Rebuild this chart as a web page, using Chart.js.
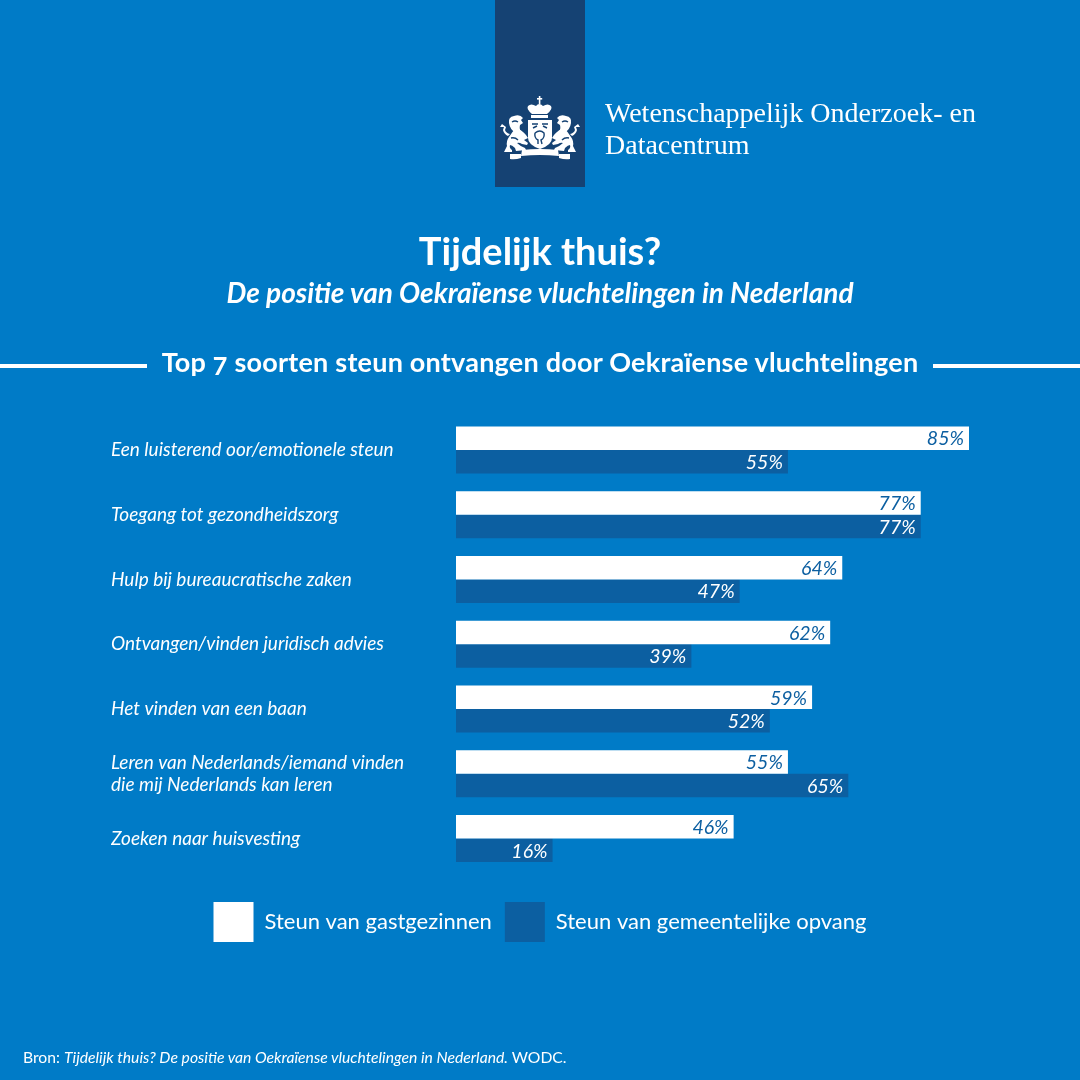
<!DOCTYPE html>
<html>
<head>
<meta charset="utf-8">
<title>Top 7 soorten steun</title>
<script src="https://cdn.jsdelivr.net/npm/chart.js@4"></script>
<style>
    html, body { margin: 0; padding: 0; background: #007bc7; }
    #page { position: relative; width: 1080px; height: 1080px; overflow: hidden; background: #007bc7; color: #fff; font-family: Lato, sans-serif; }
    #page canvas { position: absolute; left: 0; top: 0; }
    .t { position: absolute; white-space: nowrap; }
    .c { left: 0; width: 1080px; text-align: center; }
    .rule { position: absolute; height: 4px; top: 364px; background: #fff; }
</style>
</head>
<body>
<div id="page">
    <canvas id="steun" width="1080" height="1080"></canvas>

    <!-- lint -->
    <div style="position:absolute;left:495px;top:0;width:90px;height:187px;background:#154273"></div>
    <!-- beeldmerk, vereenvoudigd -->
    <svg style="position:absolute;left:495px;top:90px" width="90" height="75" viewBox="0 0 90 75">
        <defs>
            <g id="leeuw">
                <!-- kop en manen -->
                <path d="M14 33 Q13 27 19 26 Q25 24 28 28 L26 30 L28 33 L25 35 Q24 39 26 41 L21 43 Q15 40 14 33 Z" fill="#fff"/>
                <!-- lijf en poten -->
                <path d="M21 38 Q27 40 31 45 L33 48 L29 50 L33 53 L32 55 L27 54 Q24 52 22 53 Q25 56 30 58 L31 60 L21 61 L20 58 Q17 55 15 55 Q14 58 17 60 L17 62 L9 62 L12 56 Q11 51 14 47 Q17 42 21 38 Z" fill="#fff"/>
                <!-- staart -->
                <path d="M13 46 Q9 44 8 40 L9 37 L5 37 L7 34 L11 37 L10 40 Q11 43 15 44 Z" fill="#fff"/>
            </g>
        </defs>
        <g fill="#fff">
            <!-- kroon -->
            <rect x="43.8" y="6" width="1.6" height="8"/><rect x="42" y="8" width="5.2" height="1.6"/>
            <path d="M37 24 Q31 19 33 16 Q36 13 41 16 Q44 12 48 16 Q53 13 56 16 Q58 19 52 24 Z"/>
            <path d="M36 25 H53 V28 H36 Z"/>
            <!-- schild -->
            <path d="M33 30 H57 V48 Q57 55 45 59 Q33 55 33 48 Z"/>
            <use href="#leeuw"/>
            <use href="#leeuw" transform="translate(90 0) scale(-1 1)"/>
            <!-- lint onder -->
            <path d="M27 60 Q45 58 63 60 L64 66 Q45 64 26 66 Z"/>
            <path d="M15 64 H26 V68 Q20 70 15 69 Z"/><path d="M75 64 H64 V68 Q70 70 75 69 Z"/>
        </g>
        <g fill="none" stroke="#154273" stroke-width="1.4">
            <path d="M37 34 H43 M47 34 H53 M38 38 L42 36 M48 36 L52 38"/>
            <path d="M40 43 Q45 39 49 43 Q50 48 46 50 L47 54 M43 54 L43 50 Q39 48 40 43"/>
            <path d="M17 32 Q20 30 23 32 M16 48 Q20 47 23 50 M73 32 Q70 30 67 32 M74 48 Q70 47 67 50"/>
        </g>
    </svg>

    <div class="t" style="left:605px;top:97px;font:28px/32px 'Liberation Serif',serif;">Wetenschappelijk Onderzoek- en<br>Datacentrum</div>

    <div class="t c" style="top:227px;font:700 38px/46px Lato,sans-serif;">Tijdelijk thuis?</div>
    <div class="t c" style="top:274px;font:italic 700 28px/36px Lato,sans-serif;">De positie van Oekraïense vluchtelingen in Nederland</div>

    <div class="rule" style="left:0;width:147px"></div>
    <div class="rule" style="left:933px;width:147px"></div>
    <div class="t c" style="top:346px;font:700 27px/32px Lato,sans-serif;letter-spacing:.22px;font-feature-settings:'onum';">Top 7 soorten steun ontvangen door Oekraïense vluchtelingen</div>

    <div class="t" style="left:23px;top:1047px;font:15.7px/20px Lato,sans-serif;">Bron: <i>Tijdelijk thuis? De positie van Oekraïense vluchtelingen in Nederland.</i> WODC.</div>
</div>

<script>
    const categories = [
        "Een luisterend oor/emotionele steun",
        "Toegang tot gezondheidszorg",
        "Hulp bij bureaucratische zaken",
        "Ontvangen/vinden juridisch advies",
        "Het vinden van een baan",
        ["Leren van Nederlands/iemand vinden", "die mij Nederlands kan leren"],
        "Zoeken naar huisvesting"
    ];
    const gastgezinnen = [85, 77, 64, 62, 59, 55, 46];
    const gemeentelijk = [55, 77, 47, 39, 52, 65, 16];

    const white = "#ffffff";
    const darkBlue = "#0c5fa1";

    // percentages rechts in de balken
    const barValues = {
        id: "barValues",
        afterDatasetsDraw(chart) {
            const ctx = chart.ctx;
            ctx.save();
            ctx.font = "italic 19.5px Lato, sans-serif";
            ctx.textAlign = "right";
            ctx.textBaseline = "middle";
            chart.data.datasets.forEach((ds, i) => {
                ctx.fillStyle = i == 0 ? darkBlue : white;
                chart.getDatasetMeta(i).data.forEach((bar, j) => {
                    ctx.fillText(ds.data[j] + "%", bar.x - 5, bar.y + 1);
                });
            });
            ctx.restore();
        }
    };

    new Chart(document.getElementById("steun"), {
        type: "bar",
        plugins: [barValues],
        data: {
            labels: categories,
            datasets: [
                { label: "Steun van gastgezinnen", data: gastgezinnen, backgroundColor: white, borderWidth: 0 },
                { label: "Steun van gemeentelijke opvang", data: gemeentelijk, backgroundColor: darkBlue, borderWidth: 0 }
            ]
        },
        options: {
            indexAxis: "y",
            responsive: false,
            animation: false,
            datasets: { bar: { categoryPercentage: 0.725, barPercentage: 1 } },
            layout: { padding: { left: 111, right: 111, top: 417.5, bottom: 128 } },
            scales: {
                x: {
                    min: 0, max: 85,
                    grid: { display: false },
                    border: { display: false },
                    ticks: { display: false },
                    afterFit(scale) { scale.height = 18; }
                },
                y: {
                    grid: { display: false },
                    border: { display: false },
                    ticks: {
                        crossAlign: "far",
                        color: white,
                        autoSkip: false,
                        font: { family: "Lato, sans-serif", size: 19, style: "italic", lineHeight: 1.158 }
                    },
                    afterFit(scale) { scale.width = 345; }
                }
            },
            plugins: {
                tooltip: { enabled: false },
                legend: {
                    position: "bottom",
                    labels: {
                        boxWidth: 40,
                        boxHeight: 40,
                        padding: 13,
                        color: white,
                        font: { family: "Lato, sans-serif", size: 22 }
                    }
                }
            }
        }
    });
</script>
</body>
</html>
